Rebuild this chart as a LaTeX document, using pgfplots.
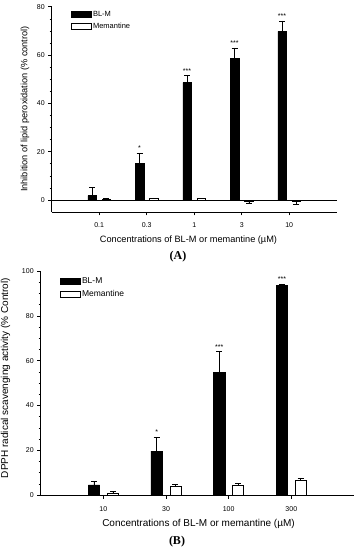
\documentclass[border=0pt]{standalone}
\usepackage{pgfplots}
\pgfplotsset{compat=1.18}
\usepackage{fontspec}
\setmainfont{Liberation Sans}
\newfontfamily\serifbf{Liberation Serif}

\pgfplotsset{
  myax/.style={
    scale only axis,
    axis x line*=bottom, axis y line*=left,
    axis line style={-, line width=0.6pt},
    tick align=outside,
    major tick length=3.5pt, minor tick length=2pt,
    tick style={black, line width=0.5pt},
    ticklabel style={font=\fontsize{7}{8}\selectfont},
    /pgf/number format/assume math mode=true,
    clip=false,
    xtick={0,...,4},
    minor y tick num=3,
    legend cell align=left,
  },
  blk/.style={ybar, fill=black, draw=black, line width=0.5pt, bar width=0.18, bar shift=0pt,
     error bars/y dir=both, error bars/y explicit,
     error bars/error bar style={black, line width=0.5pt},
     error bars/error mark options={rotate=90, mark size=3pt, line width=0.5pt},
     legend image code/.code={\draw[fill=black, draw=black, line width=0.5pt] (0pt,-2.75pt) rectangle (20pt,2.75pt);}},
  wht/.style={ybar, fill=white, draw=black, line width=0.5pt, bar width=0.18, bar shift=0pt,
     error bars/y dir=both, error bars/y explicit,
     error bars/error bar style={black, line width=0.5pt},
     error bars/error mark options={rotate=90, mark size=3pt, line width=0.5pt},
     legend image code/.code={\draw[fill=white, draw=black, line width=0.5pt] (0pt,-2.75pt) rectangle (20pt,2.75pt);}},
}

\begin{document}
\begin{tikzpicture}
\path[use as bounding box] (0pt,0pt) rectangle (359pt,550pt);

% ---------------- Panel A ----------------
\begin{axis}[myax,
  at={(51.7pt,338pt)}, anchor=south west,
  width=285pt, height=205.3pt,
  xmin=-1, xmax=5, ymin=-5, ymax=80,
  xticklabels={0.1,0.3,1,3,10},
  xticklabel style={yshift=-3.5pt},
  ytick={0,20,40,60,80},
  legend style={draw=none, fill=none, at={(rel axis cs:0.055,1.0)}, anchor=north west,
    font=\fontsize{7.5}{9}\selectfont, row sep=1pt},
]
\addplot[black, line width=0.6pt, forget plot] coordinates {(-1,0) (5,0)};
% BL-M (categories 0..4, bars drawn 0.15 left of each category)
\addplot[blk] coordinates {
  (-0.15,1.8)  += (0,3.3)
  (0.85,15.2)  += (0,4.1)
  (1.85,48.6)  += (0,2.9)
  (2.85,58.6)  += (0,4.4)
  (3.85,69.8)  += (0,4.3)
};
\addlegendentry{BL-M}
% Memantine (0.15 right of each category)
\addplot[wht] coordinates {
  (0.15,0.3)  += (0,0.2)
  (1.15,0.6)  += (0,0.2)
  (2.15,0.5)  += (0,0.2)
  (3.15,-0.5) -= (0,0.9)
  (4.15,-0.4) -= (0,1.2)
};
\addlegendentry{Memantine}
\node[font=\fontsize{7}{8}\selectfont, anchor=base, yshift=2.5pt] at (axis cs:0.85,19.3) {*};
\node[font=\fontsize{7}{8}\selectfont, anchor=base, yshift=2.5pt] at (axis cs:1.85,51.5) {***};
\node[font=\fontsize{7}{8}\selectfont, anchor=base, yshift=2.5pt] at (axis cs:2.85,63.0) {***};
\node[font=\fontsize{7}{8}\selectfont, anchor=base, yshift=2.5pt] at (axis cs:3.85,74.1) {***};
\end{axis}

% ---------------- Panel B ----------------
\begin{axis}[myax,
  at={(40.7pt,55pt)}, anchor=south west,
  width=313.3pt, height=224pt,
  xmin=-1, xmax=4, ymin=0, ymax=100,
  xtick={0,...,3},
  xticklabels={10,30,100,300},
  xticklabel style={yshift=-5pt},
  ytick={0,20,40,60,80,100},
  legend style={draw=none, fill=none, at={(rel axis cs:0.05,0.99)}, anchor=north west,
    font=\fontsize{8.5}{10}\selectfont, row sep=1.5pt},
]
\addplot[blk] coordinates {
  (-0.15,4.5) += (0,1.8)
  (0.85,19.6) += (0,6.1)
  (1.85,54.6) += (0,9.4)
  (2.85,93.7) += (0,0.5)
};
\addlegendentry{BL-M}
\addplot[wht] coordinates {
  (0.15,1.0) += (0,0.6)
  (1.15,3.7) += (0,1.1)
  (2.15,4.2) += (0,1.0)
  (3.15,6.7) += (0,1.0)
};
\addlegendentry{Memantine}
\node[font=\fontsize{7}{8}\selectfont, anchor=base, yshift=2.5pt] at (axis cs:0.85,25.7) {*};
\node[font=\fontsize{7}{8}\selectfont, anchor=base, yshift=2.5pt] at (axis cs:1.85,64.0) {***};
\node[font=\fontsize{7}{8}\selectfont, anchor=base, yshift=2.5pt] at (axis cs:2.85,94.2) {***};
\end{axis}

% ---------------- Labels ----------------
\node[rotate=90, font=\fontsize{9.2}{11}\selectfont] at (25pt,441pt) {Inhibition of lipid peroxidation (\% control)};
\node[font=\fontsize{9.2}{11}\selectfont] at (188.5pt,310pt) {Concentrations of BL-M or memantine (µM)};
\node[font=\serifbf\bfseries\fontsize{12}{14}\selectfont] at (178pt,293.3pt) {(A)};

\node[rotate=90, font=\fontsize{10}{12}\selectfont] at (5.5pt,172pt) {DPPH radical scavenging activity (\% Control)};
\node[font=\fontsize{10}{12}\selectfont] at (198.5pt,26pt) {Concentrations of BL-M or memantine (µM)};
\node[font=\serifbf\bfseries\fontsize{12}{14}\selectfont] at (177pt,8.3pt) {(B)};
\end{tikzpicture}
\end{document}
